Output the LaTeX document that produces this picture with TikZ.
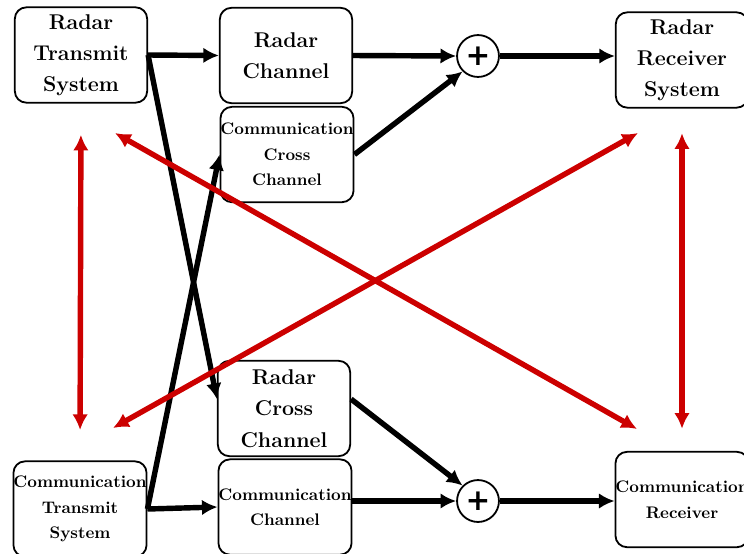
\documentclass[tikz,border=0pt]{standalone}
\usepackage{fontspec}
\newfontfamily\plusfont{DejaVu Sans}
\usepackage{tikz}
\usetikzlibrary{arrows.meta, positioning, calc}
\definecolor{linkred}{RGB}{204,0,0}

\begin{document}
\begin{tikzpicture}[x=0.6083pt, y=-0.6083pt,%
  blk/.style={draw, line width=1.1pt, rounded corners=7pt, minimum width=80.5pt, minimum height=58pt, inner sep=0pt, align=center, font={\fontsize{13}{19}\selectfont\bfseries}},%
  blksmall/.style={blk, font={\fontsize{10.2}{15.5}\selectfont\bfseries}},%
  adder/.style={draw, circle, line width=1.1pt, minimum size=25.5pt, inner sep=0pt, font={\plusfont\bfseries\fontsize{18}{18}\selectfont}},%
  sig/.style={line width=3.3pt, ->, >={Latex[length=9.5pt,width=9.5pt]}},%
  link/.style={line width=3.3pt, draw=linkred, <->, >={Latex[length=9.5pt,width=9.5pt]}}%
]
  \useasboundingbox (0,0) rectangle (744,553);
  % Radar side
  \node[blk] (rts) at (81,55) {Radar\\Transmit\\System};
  \node[blk] (rch) at (286,55.5) {Radar\\Channel};
  \node[blksmall] (ccc) at (287,154.5) {Communication\\Cross\\Channel};
  \node[adder] (sumT) at (478,56) {+};
  \node[blk] (rrs) at (682,60) {Radar\\Receiver\\System};
  % Communication side
  \node[blksmall] (cts) at (80,509) {Communication\\Transmit\\System};
  \node[blk] (rcc) at (284,408.5) {Radar\\Cross\\Channel};
  \node[blksmall] (cch) at (285,507) {Communication\\Channel};
  \node[adder] (sumB) at (478,501) {+};
  \node[blksmall] (crx) at (682,499.5) {Communication\\Receiver};
  % Signal paths
  \draw[sig] (rts.east) -- (rch.west);
  \draw[sig] (rts.east) -- (rcc.172);
  \draw[sig] (cts.east) -- (cch.west);
  \draw[sig] (cts.east) -- (ccc.west);
  \draw[sig] (rch.east) -- (sumT.west);
  \draw[sig] (ccc.east) -- (sumT.south west);
  \draw[sig] (sumT.east) -- (sumT.east -| rrs.west);
  \draw[sig] (rcc.8) -- (sumB.north west);
  \draw[sig] (sumB.west -| cch.east) -- (sumB.west);
  \draw[sig] (sumB.east) -- (sumB.east -| crx.west);
  % Interference links
  \coordinate (linkA) at (115,133);
  \coordinate (linkB) at (637,429);
  \coordinate (linkC) at (113,428);
  \coordinate (linkD) at (638,133);
  \draw[link, shorten <=19pt, shorten >=18.5pt] (rts.south) -- (cts.north);
  \draw[link, shorten <=15pt, shorten >=13.5pt] (rrs.south) -- (crx.north);
  \draw[link] (linkA) -- (linkB);
  \draw[link] (linkC) -- (linkD);
\end{tikzpicture}
\end{document}
